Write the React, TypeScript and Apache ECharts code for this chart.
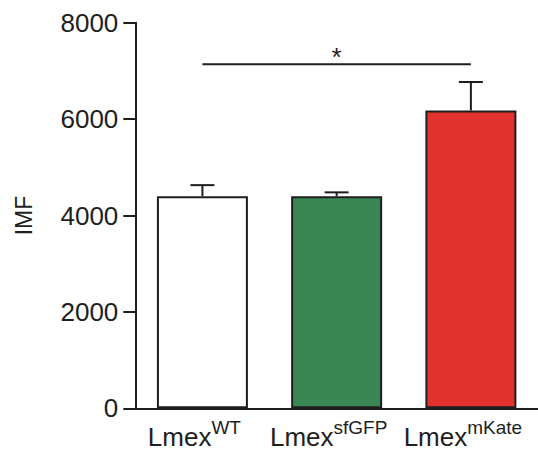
import React, { useEffect, useRef } from "react";
import * as echarts from "echarts";

// Strain names (superscript part of each label) and measured IMF values
const strains = ["WT", "sfGFP", "mKate"];
const meanIMF = [4400, 4400, 6180];
const semIMF = [230, 80, 590];
const barColors = ["#ffffff", "#3a8754", "#e3322d"];

// Y axis range
const yMin = 0;
const yMax = 8000;
const yStep = 2000;

// Significance bracket between WT and mKate
const sigPair = [0, 2];
const sigLevel = 7140;
const sigMark = "*";

const FONT = "'Liberation Sans', Arial, Helvetica, sans-serif";
const INK = "#1e1e1e";

export default function App() {
  const ref = useRef<HTMLDivElement>(null);

  useEffect(() => {
    if (!ref.current) return;
    const chart = echarts.init(ref.current, undefined, { renderer: "svg" });

    const option: any = {
      animation: false,
      backgroundColor: "#ffffff",
      grid: { left: 135.3, right: -6.75, top: 22.7, bottom: 44.7, containLabel: false },
      xAxis: {
        type: "category",
        data: strains,
        boundaryGap: true,
        axisLine: { show: true, lineStyle: { color: INK, width: 2 } },
        axisTick: { show: false },
        axisLabel: {
          interval: 0,
          margin: 10,
          padding: [0, 16, 0, 0],
          formatter: (v: string) => `{base|Lmex}{sup|${v}}`,
          rich: {
            base: { fontSize: 26, fontFamily: FONT, color: INK, verticalAlign: "bottom", lineHeight: 32 },
            sup: { fontSize: 19, fontFamily: FONT, color: INK, verticalAlign: "top", lineHeight: 32 },
          },
        },
      },
      yAxis: {
        type: "value",
        min: yMin,
        max: yMax,
        interval: yStep,
        name: "IMF",
        nameLocation: "middle",
        nameGap: 100,
        nameTextStyle: { fontSize: 23, fontFamily: FONT, color: INK },
        axisLine: { show: true, lineStyle: { color: INK, width: 2 } },
        axisTick: { show: true, length: 12, lineStyle: { color: INK, width: 2 } },
        axisLabel: {
          margin: 17,
          fontSize: 26,
          fontFamily: FONT,
          color: INK,
          formatter: (v: number) => String(v),
        },
        splitLine: { show: false },
      },
      series: [
        {
          type: "bar",
          barWidth: 91,
          data: meanIMF.map((v, i) => ({
            value: v,
            itemStyle: { color: barColors[i], borderColor: INK, borderWidth: 2 },
          })),
          z: 2,
        },
        {
          type: "custom",
          z: 3,
          data: meanIMF.map((v, i) => [i, v, semIMF[i]]),
          renderItem: (_p: any, api: any) => {
            const x = api.value(0);
            const m = api.value(1);
            const e = api.value(2);
            const base = api.coord([x, m]);
            const top = api.coord([x, m + e]);
            const half = 12;
            const st = { stroke: INK, lineWidth: 2 };
            return {
              type: "group",
              children: [
                { type: "line", shape: { x1: base[0], y1: base[1], x2: top[0], y2: top[1] }, style: st },
                { type: "line", shape: { x1: top[0] - half, y1: top[1], x2: top[0] + half, y2: top[1] }, style: st },
              ],
            };
          },
        },
        {
          type: "custom",
          z: 3,
          data: [[sigPair[0], sigPair[1], sigLevel]],
          renderItem: (_p: any, api: any) => {
            const a = api.coord([api.value(0), api.value(2)]);
            const b = api.coord([api.value(1), api.value(2)]);
            return {
              type: "group",
              children: [
                { type: "line", shape: { x1: a[0], y1: a[1], x2: b[0], y2: b[1] }, style: { stroke: INK, lineWidth: 2 } },
                {
                  type: "text",
                  x: (a[0] + b[0]) / 2,
                  y: a[1] + 6,
                  style: {
                    text: sigMark,
                    fontSize: 26,
                    fontFamily: FONT,
                    fill: INK,
                    align: "center",
                    verticalAlign: "bottom",
                  },
                },
              ],
            };
          },
        },
      ],
    };

    chart.setOption(option);
    return () => chart.dispose();
  }, []);

  return (
    <div
      ref={ref}
      style={{ position: "fixed", left: 0, top: 0, width: 538, height: 453 }}
    />
  );
}
